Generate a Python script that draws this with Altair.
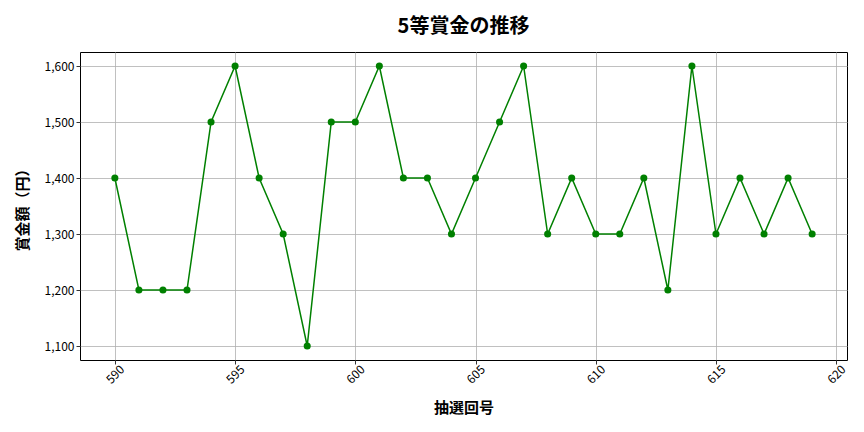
import altair as alt
import pandas as pd

draws = list(range(590, 620))
prizes = [1400, 1200, 1200, 1200, 1500, 1600, 1400, 1300, 1100, 1500,
          1500, 1600, 1400, 1400, 1300, 1400, 1500, 1600, 1300, 1400,
          1300, 1300, 1400, 1200, 1600, 1300, 1400, 1300, 1400, 1300]
x_ticks = [590, 595, 600, 605, 610, 615, 620]
y_ticks = [1100, 1200, 1300, 1400, 1500, 1600]

df = pd.DataFrame({"draw": draws, "prize": prizes})

FONT = "Noto Sans CJK JP"

x = alt.X("draw:Q", scale=alt.Scale(domain=[588.55, 620.45], nice=False, zero=False),
          axis=alt.Axis(values=x_ticks, format="d", title="抽選回号", labelAngle=-45,
                        labelAlign="center", labelBaseline="middle", labelPadding=10,
                        titlePadding=15))
y = alt.Y("prize:Q", scale=alt.Scale(domain=[1075, 1625], nice=False, zero=False),
          axis=alt.Axis(values=y_ticks, format=",.0f", title="賞金額（円）", titlePadding=14))

base = alt.Chart(df)
line = base.mark_line(color="#008000", strokeWidth=1.5).encode(x=x, y=y)
pts = base.mark_circle(color="#008000", size=50, opacity=1).encode(x=x, y=y)

chart = (line + pts).properties(
    width=767, height=308,
    title=alt.TitleParams("5等賞金の推移", fontSize=20, fontWeight="bold", font=FONT,
                          color="black", offset=15),
    autosize=alt.AutoSizeParams(type="none"),
    padding={"left": 72, "top": 44, "right": 9, "bottom": 64},
).configure_view(stroke="black", strokeWidth=1).configure_axis(
    labelFont=FONT, titleFont=FONT, labelFontSize=12, titleFontSize=15,
    titleFontWeight="bold", labelColor="black", titleColor="black",
    gridColor="#b0b0b0", gridWidth=0.8, domain=False,
    tickColor="black", tickSize=4, tickWidth=0.8,
)

chart.save("out.html", embed_options={"renderer": "svg", "actions": False})
